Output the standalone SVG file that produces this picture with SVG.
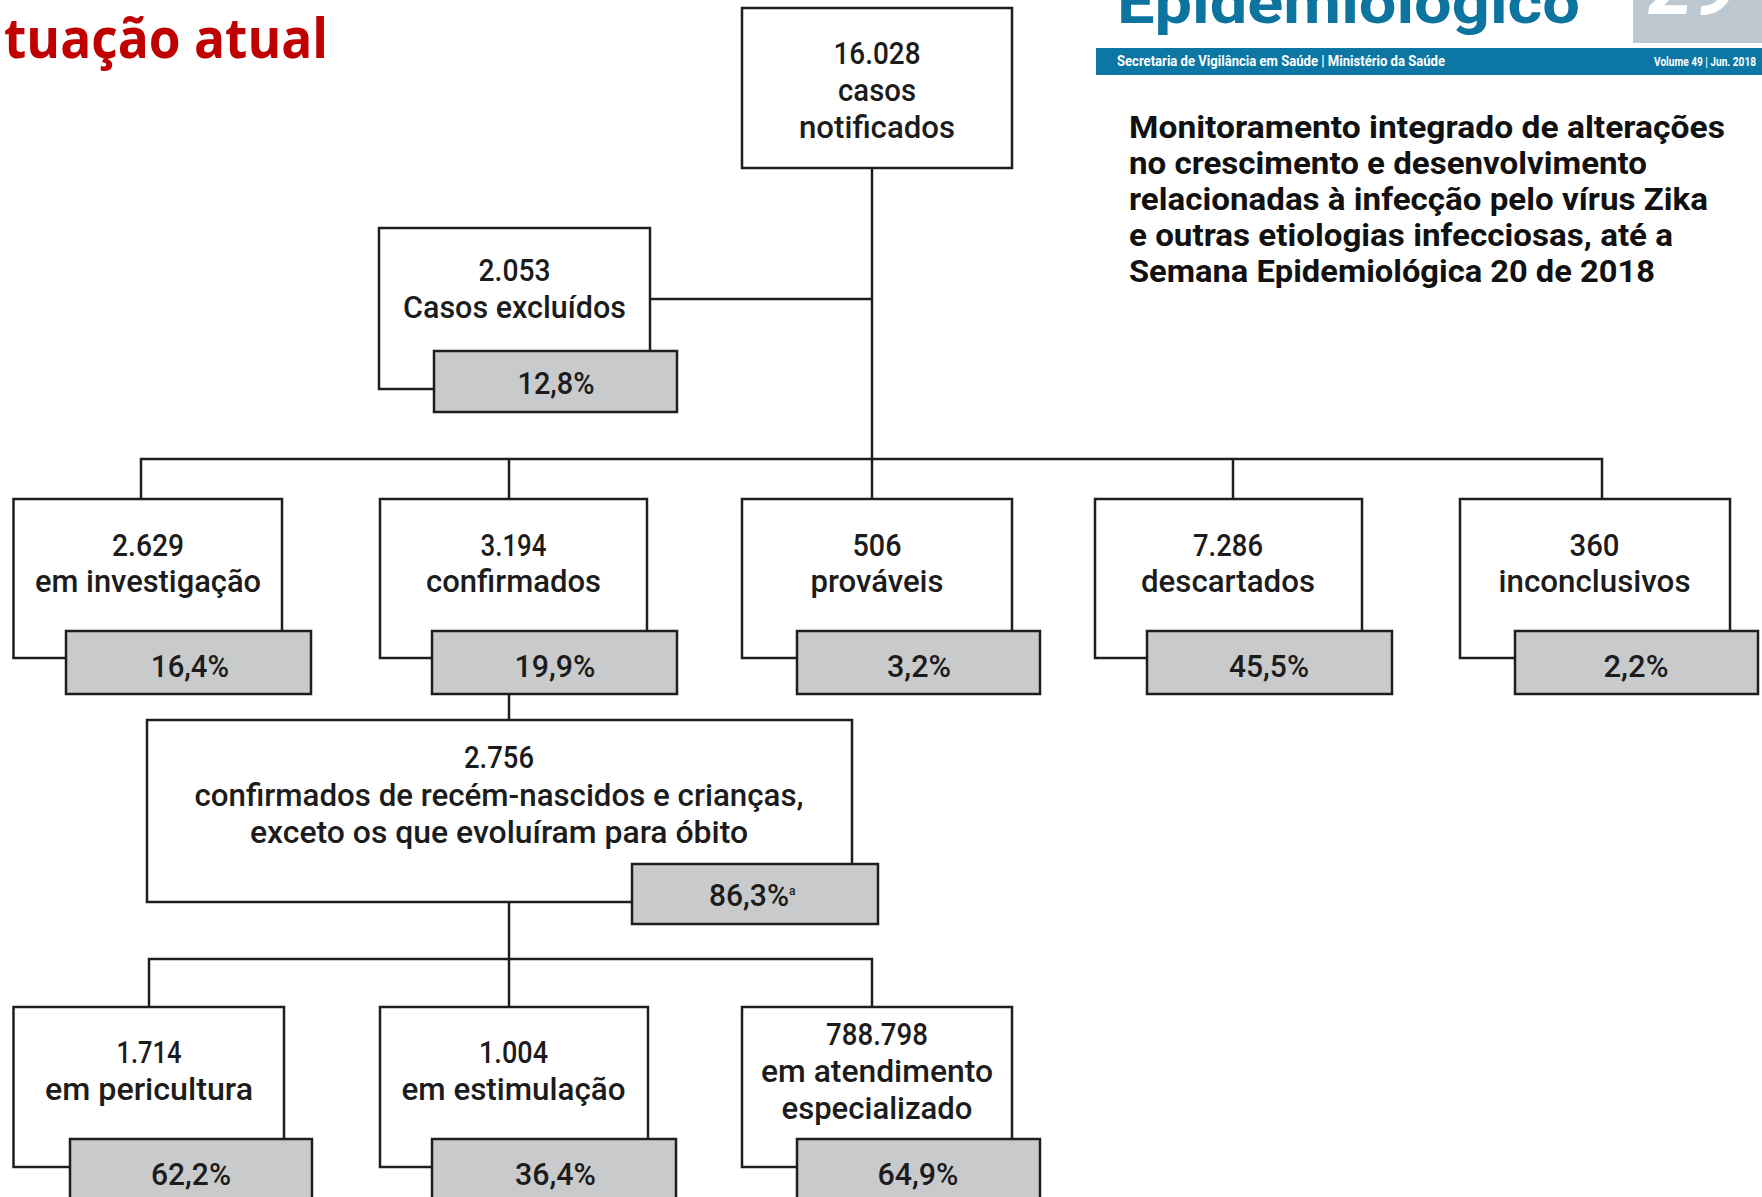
<svg xmlns="http://www.w3.org/2000/svg" width="1762" height="1197" viewBox="0 0 1762 1197">
  <style>
    .box { fill: #ffffff; stroke: #1e1e1e; stroke-width: 2.5; }
    .pct { fill: #c9cacc; stroke: #1e1e1e; stroke-width: 2.5; }
    .wire { fill: none; stroke: #1e1e1e; stroke-width: 2.5; }
    .t { font-family: Roboto, "Liberation Sans", sans-serif; font-size: 31px; font-weight: 500; fill: #1c1c1c; text-anchor: middle; }
    .head { font-family: Roboto, "Liberation Sans", sans-serif; font-weight: bold; font-size: 31px; fill: #111111; }
    .band { font-family: Roboto, "Liberation Sans", sans-serif; font-weight: bold; fill: #ffffff; }
  </style>
  <defs>
    <clipPath id="badgeClip"><rect x="1633" y="0" width="129" height="43"/></clipPath>
  </defs>

  <rect x="0" y="0" width="1762" height="1197" fill="#ffffff"/>

  <!-- slide title -->
  <text x="4" y="58" font-family="'Open Sans', 'Liberation Sans', sans-serif" font-weight="bold" font-size="56" fill="#c00000" textLength="324" lengthAdjust="spacingAndGlyphs">tuação atual</text>

  <!-- bulletin masthead -->
  <g id="masthead">
    <text x="1117" y="23" font-family="Roboto, 'Liberation Sans', sans-serif" font-weight="bold" font-size="60" fill="#0d74a0" textLength="463" lengthAdjust="spacingAndGlyphs">Epidemiológico</text>
    <rect x="1633" y="0" width="129" height="43" fill="#bcc7cf"/>
    <text x="1648" y="14" clip-path="url(#badgeClip)" font-family="Roboto, 'Liberation Sans', sans-serif" font-weight="bold" font-style="italic" font-size="80" fill="#ffffff">29</text>
    <rect x="1096" y="48" width="666" height="27" fill="#0c77a4"/>
    <text class="band" x="1117" y="66" font-size="15" textLength="328" lengthAdjust="spacingAndGlyphs">Secretaria de Vigilância em Saúde | Ministério da Saúde</text>
    <text class="band" x="1756" y="66" font-size="12" text-anchor="end" textLength="102" lengthAdjust="spacingAndGlyphs">Volume 49 | Jun. 2018</text>
  </g>

  <!-- report heading -->
  <g id="heading">
    <text class="head" x="1129" y="138" textLength="596" lengthAdjust="spacingAndGlyphs">Monitoramento integrado de alterações</text>
    <text class="head" x="1129" y="174" textLength="518" lengthAdjust="spacingAndGlyphs">no crescimento e desenvolvimento</text>
    <text class="head" x="1129" y="210" textLength="579" lengthAdjust="spacingAndGlyphs">relacionadas à infecção pelo vírus Zika</text>
    <text class="head" x="1129" y="246" textLength="544" lengthAdjust="spacingAndGlyphs">e outras etiologias infecciosas, até a</text>
    <text class="head" x="1129" y="282" textLength="526" lengthAdjust="spacingAndGlyphs">Semana Epidemiológica 20 de 2018</text>
  </g>

  <!-- connectors -->
  <g id="connectors">
    <path class="wire" d="M872,168 V499"/>
    <path class="wire" d="M650,299 H872"/>
    <path class="wire" d="M141,499 V459 H1602 V499"/>
    <path class="wire" d="M509,459 V499"/>
    <path class="wire" d="M1233,459 V499"/>
    <path class="wire" d="M509,694 V720"/>
    <path class="wire" d="M509,902 V1007"/>
    <path class="wire" d="M149,1007 V959 H872 V1007"/>
  </g>

  <!-- level 0 -->
  <g id="notificados">
    <rect class="box" x="742" y="8" width="270" height="160"/>
    <text class="t" x="877" y="64" textLength="87" lengthAdjust="spacingAndGlyphs">16.028</text>
    <text class="t" x="877" y="101" textLength="78" lengthAdjust="spacingAndGlyphs">casos</text>
    <text class="t" x="877" y="138" textLength="156" lengthAdjust="spacingAndGlyphs">notificados</text>
  </g>

  <g id="excluidos">
    <rect class="box" x="379" y="228" width="271" height="161"/>
    <rect class="pct" x="434" y="351" width="243" height="61"/>
    <text class="t" x="514.5" y="281" textLength="72" lengthAdjust="spacingAndGlyphs">2.053</text>
    <text class="t" x="514.5" y="318" textLength="223" lengthAdjust="spacingAndGlyphs">Casos excluídos</text>
    <text class="t" x="556" y="394" textLength="77" lengthAdjust="spacingAndGlyphs">12,8%</text>
  </g>

  <!-- level 1 -->
  <g id="investigacao">
    <rect class="box" x="13.5" y="499" width="268.5" height="159"/>
    <rect class="pct" x="66" y="631" width="245" height="63"/>
    <text class="t" x="148" y="556" textLength="72" lengthAdjust="spacingAndGlyphs">2.629</text>
    <text class="t" x="148" y="592" textLength="226" lengthAdjust="spacingAndGlyphs">em investigação</text>
    <text class="t" x="190" y="677" textLength="78" lengthAdjust="spacingAndGlyphs">16,4%</text>
  </g>

  <g id="confirmados">
    <rect class="box" x="380" y="499" width="267" height="159"/>
    <rect class="pct" x="432" y="631" width="245" height="63"/>
    <text class="t" x="513.5" y="556" textLength="66" lengthAdjust="spacingAndGlyphs">3.194</text>
    <text class="t" x="513.5" y="592" textLength="175" lengthAdjust="spacingAndGlyphs">confirmados</text>
    <text class="t" x="555" y="677" textLength="81" lengthAdjust="spacingAndGlyphs">19,9%</text>
  </g>

  <g id="provaveis">
    <rect class="box" x="742" y="499" width="270" height="159"/>
    <rect class="pct" x="797" y="631" width="243" height="63"/>
    <text class="t" x="877" y="556" textLength="49" lengthAdjust="spacingAndGlyphs">506</text>
    <text class="t" x="877" y="592" textLength="133" lengthAdjust="spacingAndGlyphs">prováveis</text>
    <text class="t" x="919" y="677" textLength="64" lengthAdjust="spacingAndGlyphs">3,2%</text>
  </g>

  <g id="descartados">
    <rect class="box" x="1095" y="499" width="267" height="159"/>
    <rect class="pct" x="1147" y="631" width="245" height="63"/>
    <text class="t" x="1228" y="556" textLength="70" lengthAdjust="spacingAndGlyphs">7.286</text>
    <text class="t" x="1228" y="592" textLength="174" lengthAdjust="spacingAndGlyphs">descartados</text>
    <text class="t" x="1269" y="677" textLength="80" lengthAdjust="spacingAndGlyphs">45,5%</text>
  </g>

  <g id="inconclusivos">
    <rect class="box" x="1460" y="499" width="270" height="159"/>
    <rect class="pct" x="1515" y="631" width="243" height="63"/>
    <text class="t" x="1594.5" y="556" textLength="50" lengthAdjust="spacingAndGlyphs">360</text>
    <text class="t" x="1594.5" y="592" textLength="192" lengthAdjust="spacingAndGlyphs">inconclusivos</text>
    <text class="t" x="1636" y="677" textLength="65" lengthAdjust="spacingAndGlyphs">2,2%</text>
  </g>

  <!-- level 2 -->
  <g id="recem-nascidos">
    <rect class="box" x="147" y="720" width="705" height="182"/>
    <rect class="pct" x="632" y="864" width="246" height="60"/>
    <text class="t" x="499" y="768" textLength="70" lengthAdjust="spacingAndGlyphs">2.756</text>
    <text class="t" x="499" y="806" textLength="609" lengthAdjust="spacingAndGlyphs">confirmados de recém-nascidos e crianças,</text>
    <text class="t" x="499" y="843" textLength="498" lengthAdjust="spacingAndGlyphs">exceto os que evoluíram para óbito</text>
    <text class="t" x="709" y="906" style="text-anchor:start"><tspan textLength="80" lengthAdjust="spacingAndGlyphs">86,3%</tspan><tspan font-size="12" dy="-11">a</tspan></text>
  </g>

  <!-- level 3 -->
  <g id="puericultura">
    <rect class="box" x="13.5" y="1007" width="270.5" height="160"/>
    <rect class="pct" x="70" y="1139" width="242" height="80"/>
    <text class="t" x="149" y="1063" textLength="65" lengthAdjust="spacingAndGlyphs">1.714</text>
    <text class="t" x="149" y="1100" textLength="208" lengthAdjust="spacingAndGlyphs">em pericultura</text>
    <text class="t" x="191" y="1185" textLength="80" lengthAdjust="spacingAndGlyphs">62,2%</text>
  </g>

  <g id="estimulacao">
    <rect class="box" x="380" y="1007" width="268" height="160"/>
    <rect class="pct" x="432" y="1139" width="244" height="80"/>
    <text class="t" x="513.5" y="1063" textLength="69" lengthAdjust="spacingAndGlyphs">1.004</text>
    <text class="t" x="513.5" y="1100" textLength="224" lengthAdjust="spacingAndGlyphs">em estimulação</text>
    <text class="t" x="555.5" y="1185" textLength="81" lengthAdjust="spacingAndGlyphs">36,4%</text>
  </g>

  <g id="atendimento">
    <rect class="box" x="742" y="1007" width="270" height="160"/>
    <rect class="pct" x="797" y="1139" width="243" height="80"/>
    <text class="t" x="877" y="1045" textLength="102" lengthAdjust="spacingAndGlyphs">788.798</text>
    <text class="t" x="877" y="1082" textLength="232" lengthAdjust="spacingAndGlyphs">em atendimento</text>
    <text class="t" x="877" y="1119" textLength="191" lengthAdjust="spacingAndGlyphs">especializado</text>
    <text class="t" x="918" y="1185" textLength="81" lengthAdjust="spacingAndGlyphs">64,9%</text>
  </g>
</svg>
